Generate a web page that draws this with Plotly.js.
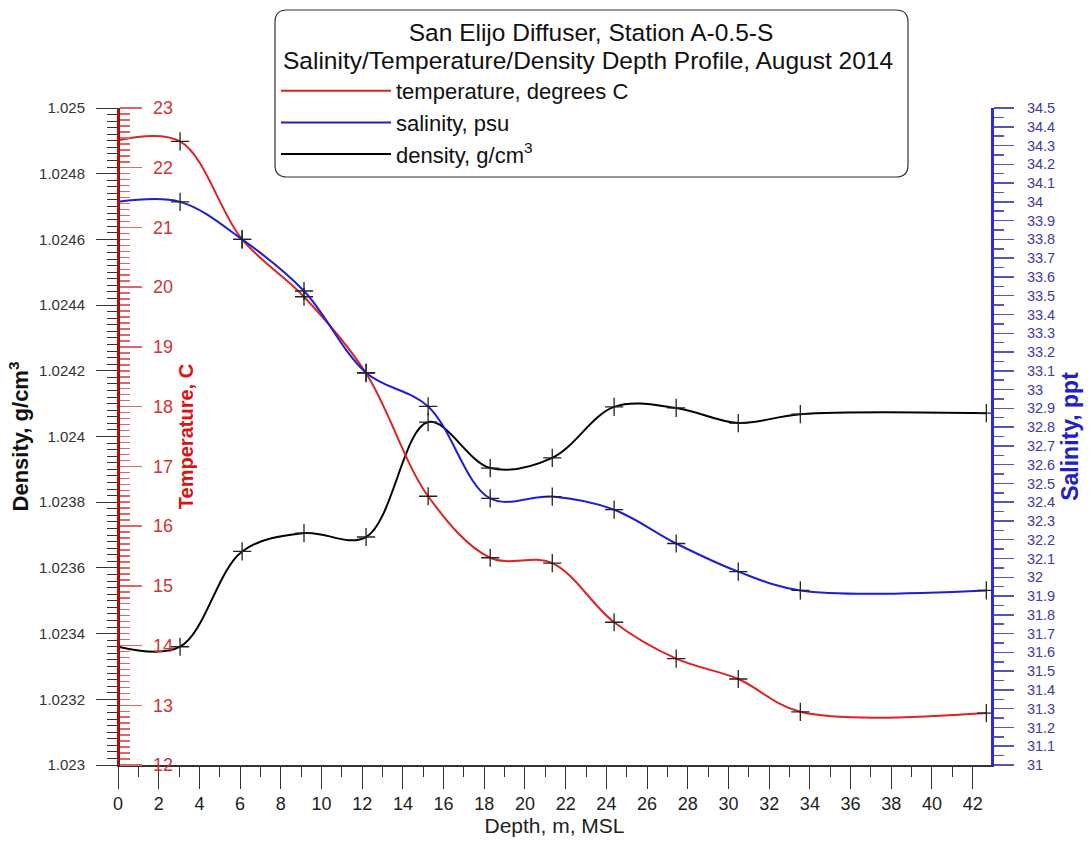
<!DOCTYPE html>
<html>
<head>
<meta charset="utf-8">
<script src="https://cdn.plot.ly/plotly-3.0.1.min.js"></script>
<style>html,body{margin:0;padding:0;background:#fff;}#chart{width:1091px;height:848px;}</style>
</head>
<body>
<div id="chart"></div>
<script>
// Data
const depth = [0, 3.05, 6.1, 9.14, 12.19, 15.24, 18.29, 21.34, 24.38, 27.43, 30.48, 33.53, 42.67];
const temperature = [22.46, 22.44, 20.8, 19.84, 18.56, 16.5, 15.47, 15.38, 14.39, 13.78, 13.44, 12.89, 12.87];
const salinity = [34.0, 34.0, 33.8, 33.525, 33.09, 32.91, 32.42, 32.43, 32.36, 32.18, 32.03, 31.93, 31.93];
const density = [1.02336, 1.02336, 1.02365, 1.023706, 1.023694, 1.024044, 1.023904, 1.023935, 1.02409, 1.024087, 1.024041, 1.024068, 1.024071];

const seriesNames = ['temperature, degrees C', 'salinity, psu', 'density, g/cm<sup>3</sup>'];
const titleLines = ['San Elijo Diffuser, Station A-0.5-S', 'Salinity/Temperature/Density Depth Profile, August 2014'];

const W = 1091, H = 848;
const M = {l: 118, r: 100, t: 108, b: 83};
const pw = W - M.l - M.r, ph = H - M.t - M.b;
const fx = p => (p - M.l) / pw;
const fy = p => (H - M.b - p) / ph;
const FONT = 'Liberation Sans, Arial, sans-serif';

const RED = '#dd2222', BLUE = '#1e1ed2', BLACK = '#000000';

function lineTrace(y, name, color, yaxis) {
  return {x: depth, y: y, name: name, yaxis: yaxis, type: 'scatter', mode: 'lines',
    line: {color: color, width: 2, shape: 'spline', smoothing: 1}, hoverinfo: 'skip'};
}
function markTrace(y, yaxis) {
  return {x: depth.slice(1), y: y.slice(1), yaxis: yaxis, type: 'scatter', mode: 'markers', showlegend: false,
    marker: {symbol: 'cross-thin', size: 13, line: {color: '#222', width: 1.3}}, hoverinfo: 'skip'};
}

const traces = [
  lineTrace(temperature, seriesNames[0], RED, 'y2'),
  lineTrace(salinity, seriesNames[1], BLUE, 'y3'),
  lineTrace(density, seriesNames[2], BLACK, 'y'),
  markTrace(temperature, 'y2'),
  markTrace(salinity, 'y3'),
  markTrace(density, 'y')
];

// rounded legend/title box
const bx0 = 275, bx1 = 908, by0 = 10, by1 = 177, r = 12;
const P = (x, y) => fx(x) + ',' + fy(y);
const boxPath = 'M' + P(bx0 + r, by0) + ' L' + P(bx1 - r, by0) + ' Q' + P(bx1, by0) + ' ' + P(bx1, by0 + r) +
  ' L' + P(bx1, by1 - r) + ' Q' + P(bx1, by1) + ' ' + P(bx1 - r, by1) +
  ' L' + P(bx0 + r, by1) + ' Q' + P(bx0, by1) + ' ' + P(bx0, by1 - r) +
  ' L' + P(bx0, by0 + r) + ' Q' + P(bx0, by0) + ' ' + P(bx0 + r, by0) + ' Z';

const layout = {
  width: W, height: H,
  margin: M,
  paper_bgcolor: '#fff', plot_bgcolor: '#fff',
  font: {family: FONT, color: '#222'},
  showlegend: true,
  title: {text: titleLines[0], x: 591 / W, xanchor: 'center', y: 1 - 32 / H, yanchor: 'middle',
    font: {family: FONT, size: 24.5, color: '#111'}},
  annotations: [{text: titleLines[1], xref: 'paper', yref: 'paper', x: fx(588), y: fy(60),
    xanchor: 'center', yanchor: 'middle', showarrow: false, font: {family: FONT, size: 24.5, color: '#111'}}],
  legend: {x: fx(276), y: fy(70), xanchor: 'left', yanchor: 'top', bgcolor: 'rgba(0,0,0,0)',
    font: {family: FONT, size: 22, color: '#111'}, itemwidth: 110, tracegroupgap: 0},
  xaxis: {range: [0, 42.9], dtick: 2, tick0: 0, ticks: 'outside', ticklen: 22, tickcolor: '#333', tickwidth: 1,
    showline: true, linecolor: '#333', linewidth: 1.5, showgrid: false, zeroline: false,
    tickfont: {size: 18, color: '#222'},
    minor: {dtick: 1, ticks: 'outside', ticklen: 10, tickcolor: '#333', tickwidth: 1, showgrid: false},
    title: {text: 'Depth, m, MSL', font: {size: 21, color: '#222'}, standoff: 4}},
  yaxis: {range: [1.023, 1.025], dtick: 0.0002, tick0: 1.023, ticks: 'outside', ticklen: 21, tickcolor: '#333',
    showline: true, linecolor: '#333', linewidth: 1, showgrid: false, zeroline: false,
    tickfont: {size: 15, color: '#333'}, ticklabelstandoff: 8,
    minor: {dtick: 0.00002, ticks: 'outside', ticklen: 10, tickcolor: '#333', showgrid: false},
    title: {text: '<b>Density, g/cm<sup>3</sup></b>', font: {size: 22, color: '#111'}, standoff: 4}},
  yaxis2: {overlaying: 'y', side: 'right', anchor: 'free', position: 0,
    range: [12, 23], dtick: 1, tick0: 12, ticks: 'outside', ticklen: 22, tickcolor: '#e06565', tickwidth: 1.5,
    showline: true, linecolor: '#a80f0f', linewidth: 2.5, showgrid: false, zeroline: false,
    tickfont: {size: 18, color: '#cc3535'}, ticklabelstandoff: 8,
    minor: {dtick: 0.1, ticks: 'outside', ticklen: 10, tickcolor: '#e06565', showgrid: false},
    title: {text: '<b>Temperature, C</b>', font: {size: 20, color: '#dd1111'}, standoff: 6}},
  yaxis3: {overlaying: 'y', side: 'right', anchor: 'x',
    range: [31, 34.5], dtick: 0.1, tick0: 31, ticks: 'outside', ticklen: 20, tickcolor: '#5555b5', tickwidth: 1.5,
    showline: true, linecolor: '#2a2ae0', linewidth: 3, showgrid: false, zeroline: false,
    tickfont: {size: 14.5, color: '#3b3ba0'}, ticklabelstandoff: 10,
    minor: {dtick: 0.05, ticks: 'outside', ticklen: 10, tickcolor: '#5555b5', showgrid: false},
    title: {text: '<b>Salinity, ppt</b>', font: {size: 23, color: '#2020c8'}, standoff: 8}},
  shapes: [{type: 'path', xref: 'paper', yref: 'paper', path: boxPath, line: {color: '#333', width: 1.2},
    fillcolor: 'rgba(255,255,255,0)', layer: 'above'}]
};

Plotly.newPlot('chart', traces, layout, {displayModeBar: false, staticPlot: true});
</script>
</body>
</html>
